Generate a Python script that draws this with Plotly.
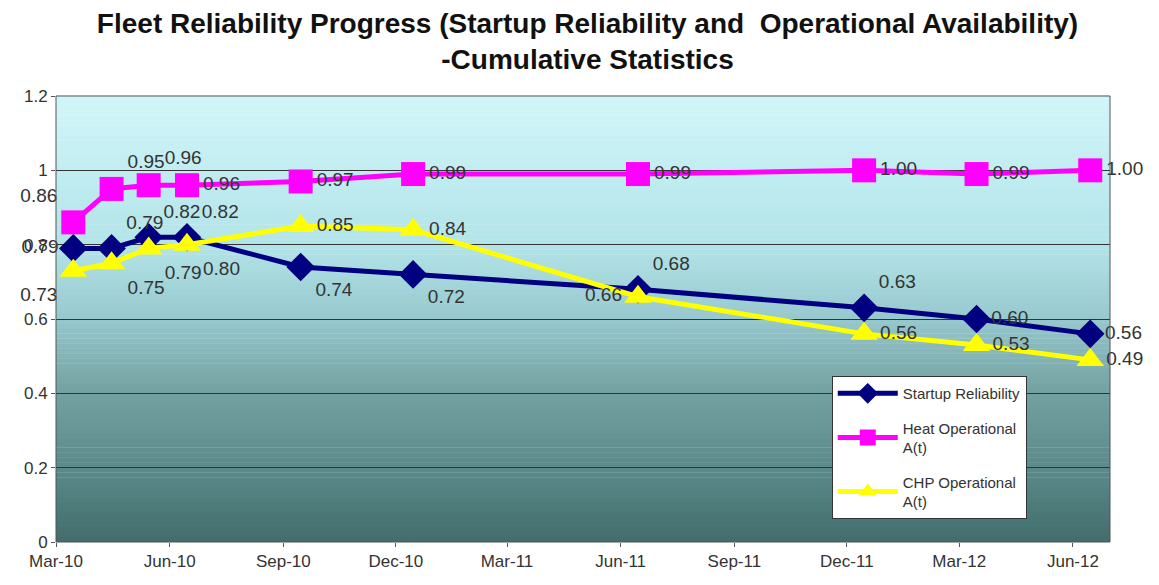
import plotly.graph_objects as go

dates = ["2010-03-15", "2010-04-15", "2010-05-15", "2010-06-15", "2010-09-15",
         "2010-12-15", "2011-06-15", "2011-12-15", "2012-03-15", "2012-06-15"]
startup = [0.79, 0.79, 0.82, 0.82, 0.74, 0.72, 0.68, 0.63, 0.60, 0.56]
heat = [0.86, 0.95, 0.96, 0.96, 0.97, 0.99, 0.99, 1.00, 0.99, 1.00]
chp = [0.73, 0.75, 0.79, 0.80, 0.85, 0.84, 0.66, 0.56, 0.53, 0.49]

tick_dates = ["2010-03-01", "2010-06-01", "2010-09-01", "2010-12-01", "2011-03-01",
              "2011-06-01", "2011-09-01", "2011-12-01", "2012-03-01", "2012-06-01"]
tick_labels = ["Mar-10", "Jun-10", "Sep-10", "Dec-10", "Mar-11",
               "Jun-11", "Sep-11", "Dec-11", "Mar-12", "Jun-12"]

pos_startup = ["middle left", "top right", "top right", "top right", "bottom right",
               "bottom right", "top right", "top right", "middle right", "middle right"]
pos_heat = ["top left", "top right", "top right", "middle right", "middle right",
            "middle right", "middle right", "middle right", "middle right", "middle right"]
pos_chp = ["bottom left", "bottom right", "bottom right", "bottom right", "middle right",
           "middle right", "middle left", "middle right", "middle right", "middle right"]

FONT = "Liberation Sans, Arial, sans-serif"
label_font = dict(family=FONT, size=19, color="#333333")

fig = go.Figure()

fig.add_trace(go.Scatter(
    x=dates, y=startup, name="Startup Reliability", mode="lines+markers+text",
    legendgroup="g1",
    line=dict(color="#000080", width=5),
    marker=dict(symbol="diamond", size=22, color="#000080"),
    text=[f"{v:.2f}" for v in startup], textposition=pos_startup,
    textfont=label_font, cliponaxis=False))

fig.add_trace(go.Scatter(
    x=dates, y=heat, name="Heat Operational<br>A(t)", mode="lines+markers+text",
    legendgroup="g2",
    line=dict(color="#FF00FF", width=5),
    marker=dict(symbol="square", size=24, color="#FF00FF"),
    text=[f"{v:.2f}" for v in heat], textposition=pos_heat,
    textfont=label_font, cliponaxis=False))

fig.add_trace(go.Scatter(
    x=dates, y=chp, name="CHP Operational<br>A(t)", mode="lines+markers+text",
    legendgroup="g3",
    line=dict(color="#FFFF00", width=5),
    marker=dict(symbol="triangle-up", size=24, color="#FFFF00"),
    text=[f"{v:.2f}" for v in chp], textposition=pos_chp,
    textfont=label_font, cliponaxis=False))

# gradient background bands
anchors = [(0.0, (65, 110, 108)), (1/6, (92, 138, 138)), (2/6, (115, 160, 160)),
           (3/6, (150, 200, 205)), (4/6, (178, 228, 232)), (1.0, (210, 246, 250))]
n = 90
shapes = []
for i in range(n):
    t = (i + 0.5) / n
    for j in range(len(anchors) - 1):
        if anchors[j][0] <= t <= anchors[j + 1][0]:
            a0, c0 = anchors[j]
            a1, c1 = anchors[j + 1]
            f = (t - a0) / (a1 - a0)
            c = tuple(int(round(c0[k] + f * (c1[k] - c0[k]))) for k in range(3))
            break
    shapes.append(dict(type="rect", xref="paper", yref="paper",
                       x0=0, x1=1, y0=i / n, y1=(i + 1) / n + 0.001,
                       fillcolor=f"rgb{c}", line=dict(width=0), layer="below"))
shapes.append(dict(type="rect", xref="paper", yref="paper", x0=0, x1=1, y0=0, y1=1,
                   line=dict(color="#555555", width=1), fillcolor="rgba(0,0,0,0)",
                   layer="above"))

fig.update_layout(
    width=1159, height=585,
    paper_bgcolor="white", plot_bgcolor="white",
    margin=dict(l=48, r=57, t=88, b=51),
    title=dict(text="<b>Fleet Reliability Progress (Startup Reliability and  Operational Availability)<br>-Cumulative Statistics</b>",
               x=0.5, xanchor="center", y=0.958, yanchor="middle",
               font=dict(family=FONT, size=28, color="#111111")),
    font=dict(family=FONT, size=17, color="#333333"),
    shapes=shapes,
    showlegend=True,
    legend=dict(x=0.736, y=0.372, xanchor="left", yanchor="top",
                bgcolor="white", bordercolor="#333333", borderwidth=1,
                font=dict(family=FONT, size=15, color="#333333"),
                tracegroupgap=12, itemwidth=60),
    xaxis=dict(type="date", range=["2010-03-01", "2012-07-01"],
               tickvals=tick_dates, ticktext=tick_labels,
               showgrid=False, zeroline=False, ticks="outside", ticklen=4,
               tickcolor="#555555", showline=False,
               tickfont=dict(size=17, color="#333333")),
    yaxis=dict(range=[0, 1.2], tickvals=[0, 0.2, 0.4, 0.6, 0.8, 1.0, 1.2],
               ticktext=["0", "0.2", "0.4", "0.6", "0.8", "1", "1.2"],
               showgrid=True, gridcolor="#333333", gridwidth=1, zeroline=False,
               ticks="outside", ticklen=4, tickcolor="#555555",
               tickfont=dict(size=17, color="#333333")),
)

fig.write_html("out.html")
